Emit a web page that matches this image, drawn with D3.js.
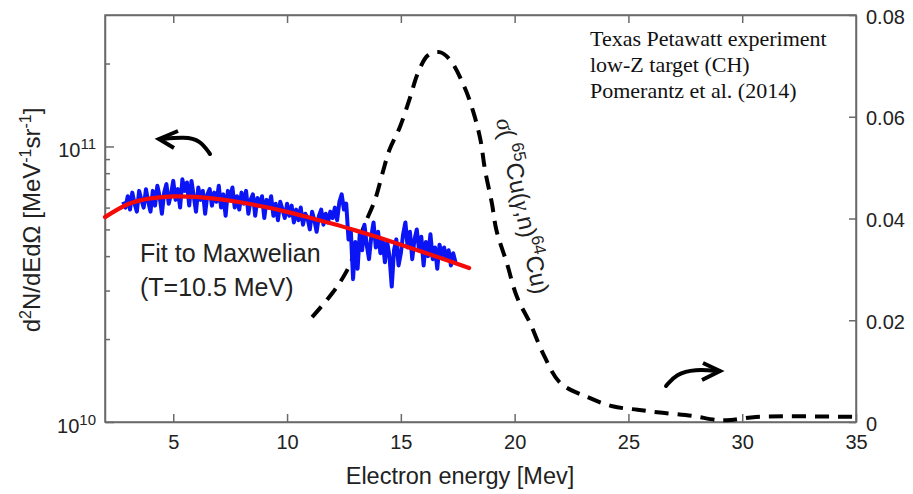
<!DOCTYPE html>
<html><head><meta charset="utf-8">
<script src="https://cdn.jsdelivr.net/npm/d3@7"></script>
<style>
body{margin:0;background:#fff;}
svg{display:block;font-family:"Liberation Sans",Arial,sans-serif;}
</style></head>
<body><svg id="c" width="913" height="494"></svg>
<script>
// ---- data ----
const blueStartE = 2.8, blueStepE = 0.1;             // measured spectrum energy grid [MeV]
const spectrum = [                                    // d2N/dEdΩ, units of 1e10
6.3, 6.0,
6.6, 5.9, 6.8, 6.2, 5.8, 6.9, 6.4, 6.0, 7.0, 6.3,
5.8, 6.9, 6.1, 7.2, 6.6, 5.7, 6.8, 7.3, 6.2, 6.7,
7.5, 6.4, 7.0, 6.0, 7.6, 6.9, 7.4, 6.1, 7.5, 6.6,
5.8, 7.1, 6.4, 6.9, 5.7, 6.7, 7.0, 6.1, 6.8, 6.3,
7.2, 6.0, 6.7, 5.6, 6.9, 6.5, 7.1, 6.0, 6.6, 5.9,
6.8, 6.2, 6.9, 5.7, 6.4, 6.7, 5.6, 6.5, 6.1, 6.6,
5.5, 6.4, 6.0, 6.6, 5.6, 6.2, 5.4, 6.3, 5.9, 5.5,
6.2, 5.6, 6.1, 5.3, 5.9, 5.4, 6.0, 5.2, 5.7, 5.5,
5.0, 5.8, 5.4, 4.9, 5.6, 5.9, 5.2, 5.7, 5.3, 5.8,
5.5, 6.0, 5.4, 6.3, 6.7, 5.9, 6.2, 4.6, 5.0, 3.3,
4.5, 3.6, 4.9, 4.2, 5.2, 4.4, 3.9, 4.7, 5.3, 4.3,
4.9, 4.1, 4.6, 3.8, 4.5, 4.0, 3.1, 4.2, 4.6, 3.7,
4.1, 4.8, 5.3, 4.3, 4.9, 3.9, 4.6, 5.0, 4.2, 4.7,
3.7, 4.5, 4.0, 4.8, 3.9, 4.3, 3.6, 4.4, 4.0, 4.3,
3.9, 4.2, 3.7, 4.1, 3.8];
const fitE = [2,3,4,5,6,7,8,9,10,11,12,13,14,15,16,17,18];
const fitV = [5.54,6.17,6.48,6.59,6.56,6.44,6.26,6.04,5.79,5.51,5.24,4.96,4.68,4.40,4.13,3.87,3.62];
const xsE = [11.1,12.0,12.6,13.07,13.4,13.86,14.2,14.5,14.96,15.4,15.75,16.2,16.7,17.16,17.8,18.2,18.5,18.7,19.0,19.2,19.66,20.1,20.67,21.3,22.0,23.2,24.3,25.4,26.5,27.8,28.9,29.5,30.6,35];
const xsSigma = [0.0206,0.0254,0.0295,0.0344,0.0387,0.0436,0.049,0.0535,0.058,0.0637,0.0686,0.0721,0.0727,0.0712,0.0658,0.0607,0.0554,0.0495,0.043,0.0377,0.0312,0.0246,0.0195,0.013,0.0077,0.0049,0.0031,0.0024,0.0018,0.0012,0.0004,0.0004,0.001,0.001];
const xTicks = [5,10,15,20,25,30,35];
const yLeftMajor = [1e10, 1e11];
const yLeftMinor = [2e10,3e10,4e10,5e10,6e10,7e10,8e10,9e10,2e11];
const yRightTicks = [0,0.02,0.04,0.06,0.08];
const yRightLabels = ["0","0.02","0.04","0.06","0.08"];
const noteLines = ["Texas Petawatt experiment","low-Z target (CH)","Pomerantz et al. (2014)"];

// ---- layout ----
const L=105, R=856, T=15, B=422;
const svg = d3.select("#c");
const x = d3.scaleLinear().domain([2,35]).range([L,R]);
const yL = d3.scaleLog().domain([1e10,3e11]).range([B,T]);
const yR = d3.scaleLinear().domain([0,0.08]).range([B,T]);
const axisCol = "#6a6a6a", txtCol = "#222";

// frame
svg.append("rect").attr("x",L).attr("y",T).attr("width",R-L).attr("height",B-T)
  .attr("fill","none").attr("stroke",axisCol).attr("stroke-width",1.5);

// bottom axis
const gB = svg.append("g").attr("transform",`translate(0,${B})`)
  .call(d3.axisBottom(x).tickValues(xTicks).tickSizeInner(-8).tickSizeOuter(0).tickPadding(16).tickFormat(d3.format("d")));
// top axis (ticks only)
const gT = svg.append("g").attr("transform",`translate(0,${T})`)
  .call(d3.axisTop(x).tickValues(xTicks.slice(0,-1)).tickSizeInner(-8).tickSizeOuter(0).tickFormat(""));
// left axis
const gL = svg.append("g").attr("transform",`translate(${L},0)`)
  .call(d3.axisLeft(yL).tickValues(yLeftMinor.concat(yLeftMajor)).tickSizeInner(-5).tickSizeOuter(0).tickFormat(""));
gL.selectAll(".tick line").filter(d=>yLeftMajor.includes(d)).attr("x2",9);
// right axis
const gR = svg.append("g").attr("transform",`translate(${R},0)`)
  .call(d3.axisRight(yR).tickValues(yRightTicks).tickSizeInner(-7).tickSizeOuter(0).tickPadding(16)
    .tickFormat((d,i)=>yRightLabels[i]));
[gB,gT,gL,gR].forEach(g=>{
  g.select(".domain").attr("stroke",axisCol).attr("stroke-width",1.5);
  g.selectAll(".tick line").attr("stroke",axisCol).attr("stroke-width",1.5);
  g.selectAll("text").attr("font-size",20).attr("fill",txtCol).attr("font-family","Liberation Sans, Arial, sans-serif");
});
gB.selectAll("text").attr("dy","0.55em");
gR.selectAll("text").attr("dy","0.4em").attr("x",10);

// left tick labels 10^n
yLeftMajor.forEach(v=>{
  const t = svg.append("text").attr("x",96).attr("y",yL(v)+11).attr("text-anchor","end")
    .attr("fill",txtCol).attr("font-size",20);
  t.append("tspan").text("10");
  t.append("tspan").attr("font-size",15).attr("dy",-8).text(Math.round(Math.log10(v)));
});

// cross-section dashed curve
const lineR = d3.line().x((d,i)=>x(xsE[i])).y(d=>yR(d)).curve(d3.curveCatmullRom.alpha(0.5));
svg.append("path").attr("d",lineR(xsSigma)).attr("fill","none").attr("stroke","#000")
  .attr("stroke-width",4).attr("stroke-dasharray","14,9");

// spectrum
const lineS = d3.line().x((d,i)=>x(blueStartE+i*blueStepE)).y(d=>yL(d*1e10));
svg.append("path").attr("d",lineS(spectrum)).attr("fill","none").attr("stroke","#0a14f5")
  .attr("stroke-width",4).attr("stroke-linejoin","round");

// fit
const lineF = d3.line().x((d,i)=>x(fitE[i])).y(d=>yL(d*1e10)).curve(d3.curveNatural);
svg.append("path").attr("d",lineF(fitV)).attr("fill","none").attr("stroke","#f50a0a")
  .attr("stroke-width",4.2).attr("stroke-linecap","round");

// texts
svg.append("text").attr("x",140).attr("y",262).attr("font-size",25).attr("fill",txtCol).text("Fit to Maxwelian");
svg.append("text").attr("x",140).attr("y",296).attr("font-size",25).attr("fill",txtCol).text("(T=10.5 MeV)");

const note = svg.append("g").attr("font-family","Liberation Serif, Times New Roman, serif").attr("font-size",22).attr("fill","#111");
noteLines.forEach((s,i)=>note.append("text").attr("x",590).attr("y",46+i*26).text(s));

// sigma label
const sg = svg.append("text").attr("transform","translate(496,120) rotate(78)").attr("font-size",24).attr("fill",txtCol);
sg.append("tspan").attr("font-family","Liberation Serif, serif").attr("font-style","italic").text("σ");
sg.append("tspan").text("( ");
sg.append("tspan").attr("font-size",17).attr("dy",-10).text("65");
sg.append("tspan").attr("dy",10).text("Cu(");
sg.append("tspan").attr("font-family","Liberation Serif, serif").attr("font-style","italic").text("γ");
sg.append("tspan").text(",n)");
sg.append("tspan").attr("font-size",17).attr("dy",-10).text("64");
sg.append("tspan").attr("dy",10).text("Cu)");

// axis titles
svg.append("text").attr("x",460).attr("y",484).attr("text-anchor","middle").attr("font-size",23.5).attr("fill",txtCol)
  .text("Electron energy [Mev]");
const yt = svg.append("text").attr("transform","translate(40,220) rotate(-90)").attr("text-anchor","middle")
  .attr("font-size",24).attr("fill",txtCol);
yt.append("tspan").text("d");
yt.append("tspan").attr("font-size",16).attr("dy",-9).text("2");
yt.append("tspan").attr("dy",9).text("N/dEdΩ [MeV");
yt.append("tspan").attr("font-size",16).attr("dy",-9).text("-1");
yt.append("tspan").attr("dy",9).text("sr");
yt.append("tspan").attr("font-size",16).attr("dy",-9).text("-1");
yt.append("tspan").attr("dy",9).text("]");

// curved arrows
function arrow(pts, tip, a1, a2){
  svg.append("path").attr("d",d3.line().curve(d3.curveBasis)(pts)).attr("fill","none")
    .attr("stroke","#000").attr("stroke-width",4).attr("stroke-linecap","round");
  svg.append("path").attr("d",`M${a1[0]},${a1[1]}L${tip[0]},${tip[1]}L${a2[0]},${a2[1]}`)
    .attr("fill","none").attr("stroke","#000").attr("stroke-width",4).attr("stroke-linejoin","miter");
}
arrow([[210,154],[200,140],[185,137],[160,139]],[159,139],[178,131],[174,148]);
arrow([[666,386],[676,374],[695,369],[719,371]],[720,371],[703,363],[702,380]);
</script></body></html>
